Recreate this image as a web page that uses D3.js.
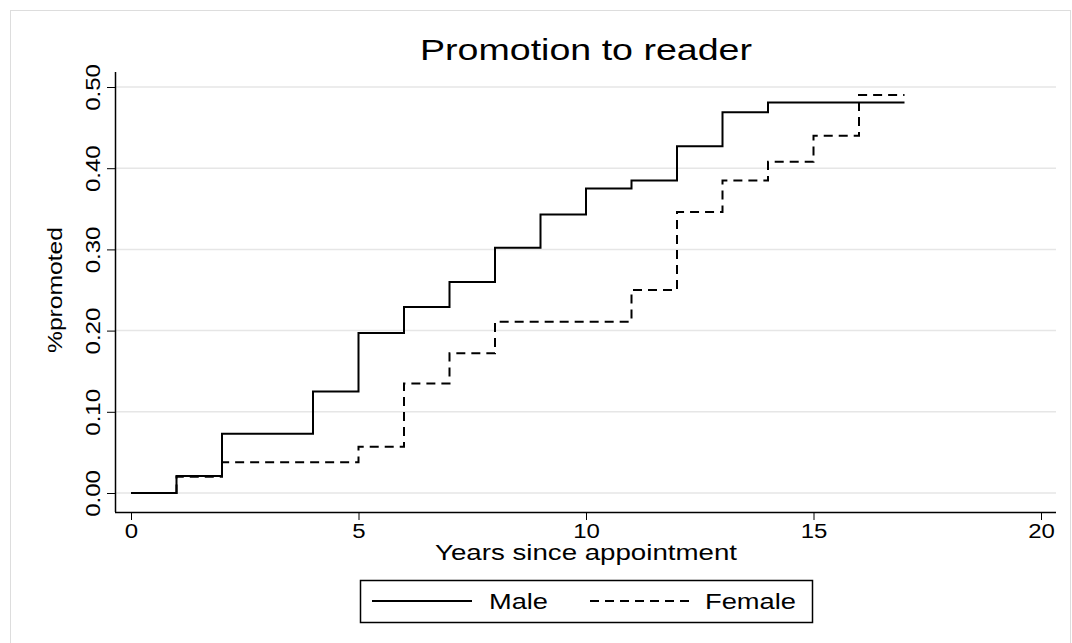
<!DOCTYPE html>
<html><head><meta charset="utf-8">
<script src="https://cdn.jsdelivr.net/npm/d3@7"></script>
<style>body{margin:0;background:#fff}svg{font-family:"Liberation Sans",Arial,sans-serif}</style>
</head><body><svg id="c" width="1072" height="643"></svg>
<script>
const maleX=[0,1,2,4,5,6,7,8,9,10,11,12,13,14,17];
const maleY=[0,0.021,0.073,0.125,0.197,0.229,0.26,0.302,0.343,0.375,0.385,0.427,0.469,0.481,0.481];
const femX=[0,1,2,5,6,7,8,11,12,13,14,15,16,17];
const femY=[0,0.02,0.038,0.057,0.135,0.172,0.211,0.25,0.346,0.385,0.408,0.44,0.49,0.49];
const xTicks=[0,5,10,15,20];
const yTicks=[0,0.1,0.2,0.3,0.4,0.5];
const svg=d3.select("#c");
svg.append("rect").attr("x",10.5).attr("y",10.5).attr("width",1060).attr("height",640).attr("fill","none").attr("stroke","#ddd");
const x=d3.scaleLinear().domain([0,20]).range([131,1041]);
const y=d3.scaleLinear().domain([0,0.5]).range([493,87]);
function stretch(sel,f){sel.each(function(){const n=this;const w=n.getComputedTextLength();d3.select(n).attr("textLength",w*f).attr("lengthAdjust","spacingAndGlyphs");});}
svg.selectAll(".g").data(yTicks).enter().append("line").attr("x1",116).attr("x2",1056)
 .attr("y1",d=>y(d)).attr("y2",d=>y(d)).attr("stroke","#e6e6e6").attr("stroke-width",1.5);
const xa=svg.append("g").attr("transform","translate(0,512)").call(d3.axisBottom(x).tickValues(xTicks).tickSize(8).tickSizeOuter(0));
xa.select(".domain").attr("d","M115,0.5H1056").attr("stroke","#000").attr("stroke-width",1.5);
xa.selectAll("text").attr("font-size",20).attr("dy","0.75em").attr("fill","#000");
stretch(xa.selectAll("text"),1.2);
const ya=svg.append("g").attr("transform","translate(115,0)").call(d3.axisLeft(y).tickValues(yTicks).tickSize(8).tickSizeOuter(0).tickFormat(d3.format(".2f")));
ya.select(".domain").attr("d","M0.5,72V512").attr("stroke","#000").attr("stroke-width",1.5);
ya.selectAll("text").attr("font-size",20).attr("fill","#000").attr("text-anchor","middle")
 .attr("transform","rotate(-90)").attr("x",0).attr("y",-15).attr("dy",0);
stretch(ya.selectAll("text"),1.2);
const t1=svg.append("text").attr("x",586).attr("y",60).attr("text-anchor","middle").attr("font-size",30).text("Promotion to reader");
t1.attr("textLength",332).attr("lengthAdjust","spacingAndGlyphs");
svg.append("text").attr("x",586).attr("y",560).attr("text-anchor","middle").attr("font-size",22).text("Years since appointment").attr("textLength",302).attr("lengthAdjust","spacingAndGlyphs");
svg.append("text").attr("transform","translate(62,290) rotate(-90)").attr("text-anchor","middle").attr("font-size",21).text("%promoted").attr("textLength",126).attr("lengthAdjust","spacingAndGlyphs");
const line=d3.line().curve(d3.curveStepAfter).x(d=>x(d[0])).y(d=>y(d[1]));
svg.append("path").attr("d",line(d3.zip(maleX,maleY))).attr("fill","none").attr("stroke","#000").attr("stroke-width",2);
svg.append("path").attr("d",line(d3.zip(femX,femY))).attr("fill","none").attr("stroke","#000").attr("stroke-width",2).attr("stroke-dasharray","9,6");
svg.append("rect").attr("x",360.5).attr("y",580.5).attr("width",452).attr("height",42).attr("fill","none").attr("stroke","#000").attr("stroke-width",1.5);
svg.append("line").attr("x1",372).attr("x2",472).attr("y1",601).attr("y2",601).attr("stroke","#000").attr("stroke-width",2);
svg.append("text").attr("x",489).attr("y",609).attr("font-size",22).text("Male").attr("textLength",59).attr("lengthAdjust","spacingAndGlyphs");
svg.append("line").attr("x1",590).attr("x2",692).attr("y1",601).attr("y2",601).attr("stroke","#000").attr("stroke-width",2).attr("stroke-dasharray","9,6");
svg.append("text").attr("x",705).attr("y",609).attr("font-size",22).text("Female").attr("textLength",91).attr("lengthAdjust","spacingAndGlyphs");
</script></body></html>
